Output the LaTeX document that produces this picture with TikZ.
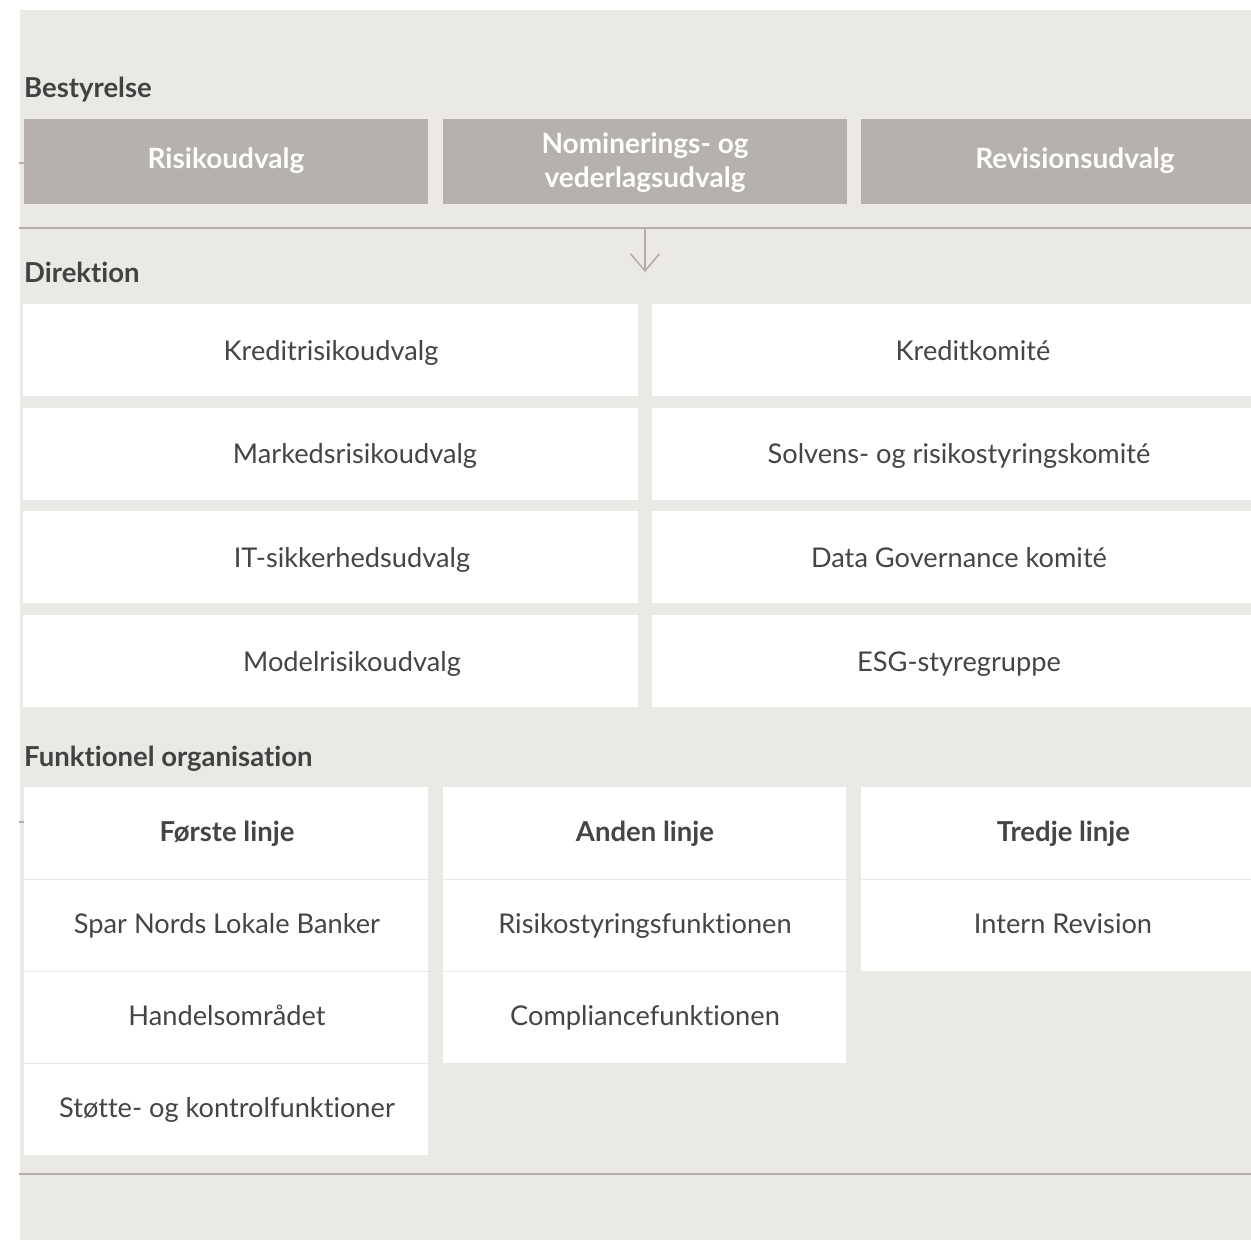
\documentclass[tikz,border=0pt]{standalone}
\usepackage{fontspec}
\setmainfont{Lato}[Ligatures={NoCommon,NoContextual}]
\usetikzlibrary{arrows.meta}
\definecolor{bg}{HTML}{EBE9E5}
\definecolor{topfill}{HTML}{B6B1AD}
\definecolor{txt}{HTML}{454545}
\definecolor{rulec}{HTML}{B3AEAA}
\begin{document}
\begin{tikzpicture}[x=1pt,y=-1pt,
  topbox/.style={fill=topfill, draw=none, inner sep=0pt, minimum height=85pt, anchor=north west},
  toptext/.style={text=white, font=\fontsize{28}{34}\selectfont\bfseries, align=center, inner sep=0pt},
  cell/.style={fill=white, draw=none, inner sep=0pt, anchor=north west},
  ctext/.style={text=txt, font=\fontsize{27.2}{30}\selectfont, inner sep=0pt, anchor=base},
  htext/.style={text=txt, font=\fontsize{27.5}{30}\selectfont\bfseries, inner sep=0pt, anchor=base},
  section/.style={text=txt!95!black, font=\fontsize{27.5}{30}\selectfont\bfseries, inner sep=0pt, anchor=base west},
  rule/.style={draw=rulec, line width=2pt},
  conn/.style={draw=rulec, line width=1.6pt}
]
\useasboundingbox (0,0) rectangle (1251,1240);
\fill[bg] (20,10) rectangle (1251,1240);

% left stubs
\coordinate (s1a) at (19,163); \coordinate (s1b) at (24,163);
\coordinate (s2a) at (19,822); \coordinate (s2b) at (24,822);
\draw[conn] (s1a) -- (s1b);
\draw[conn] (s2a) -- (s2b);

% Bestyrelse
\node[section] (lb) at (24,97) {Bestyrelse};
\node[topbox, minimum width=404pt] (t1) at (24,119) {};
\node[topbox, minimum width=404pt] (t2) at (443,119) {};
\node[topbox, minimum width=390pt] (t3) at (861,119) {};
\node[toptext] (t1t) at (226,161) {Risikoudvalg};
\node[toptext] (t2t) at (645,163) {Nominerings- og\\vederlagsudvalg};
\node[toptext] (t3t) at (1075,161) {Revisionsudvalg};

% rule + arrow
\coordinate (r1a) at (19,228); \coordinate (r1b) at (1251,228);
\draw[rule] (r1a) -- (r1b);
\coordinate (arrS) at (645,228); \coordinate (arrE) at (645,272);
\draw[conn, -{Straight Barb[length=17pt,width=29pt,line width=1.6pt]}] (arrS) -- (arrE);

% Direktion
\node[section] (ld) at (24,282) {Direktion};
\foreach \n/\y in {1/304,2/407.5,3/511,4/615}{
  \node[cell, minimum width=615pt, minimum height=92pt] (dl\n) at (23,\y) {};
  \node[cell, minimum width=599pt, minimum height=92pt] (dr\n) at (652,\y) {};
}
\node[ctext] (dl1t) at (331,360) {Kreditrisikoudvalg};
\node[ctext] (dl2t) at (355,463.5) {Markedsrisikoudvalg};
\node[ctext] (dl3t) at (352,567) {IT-sikkerhedsudvalg};
\node[ctext] (dl4t) at (352,671) {Modelrisikoudvalg};
\node[ctext] (dr1t) at (973,360) {Kreditkomité};
\node[ctext] (dr2t) at (959,463.5) {Solvens- og risikostyringskomité};
\node[ctext] (dr3t) at (959,567) {Data Governance komité};
\node[ctext] (dr4t) at (959,671) {ESG-styregruppe};

% Funktionel organisation
\node[section] (lf) at (24,766) {Funktionel organisation};
% column 1
\node[cell, minimum width=404pt, minimum height=91.5pt] (a1) at (24,787) {};
\node[cell, minimum width=404pt, minimum height=90.5pt] (a2) at (24,880) {};
\node[cell, minimum width=404pt, minimum height=90.5pt] (a3) at (24,972) {};
\node[cell, minimum width=404pt, minimum height=91pt] (a4) at (24,1064) {};
% column 2
\node[cell, minimum width=403pt, minimum height=91.5pt] (b1) at (443,787) {};
\node[cell, minimum width=403pt, minimum height=90.5pt] (b2) at (443,880) {};
\node[cell, minimum width=403pt, minimum height=90.5pt] (b3) at (443,972) {};
% column 3
\node[cell, minimum width=390pt, minimum height=91.5pt] (c1) at (861,787) {};
\node[cell, minimum width=390pt, minimum height=90.5pt] (c2) at (861,880) {};

\node[htext] (a1t) at (227,841) {Første linje};
\node[htext] (b1t) at (645,841) {Anden linje};
\node[htext] (c1t) at (1063.5,841) {Tredje linje};
\node[ctext] (a2t) at (227,933) {Spar Nords Lokale Banker};
\node[ctext] (a3t) at (227,1025) {Handelsområdet};
\node[ctext] (a4t) at (227,1117) {Støtte- og kontrolfunktioner};
\node[ctext] (b2t) at (645,933) {Risikostyringsfunktionen};
\node[ctext] (b3t) at (645,1025) {Compliancefunktionen};
\node[ctext] (c2t) at (1063,933) {Intern Revision};

% bottom rule
\coordinate (r2a) at (19,1174); \coordinate (r2b) at (1251,1174);
\draw[rule] (r2a) -- (r2b);
\end{tikzpicture}
\end{document}
